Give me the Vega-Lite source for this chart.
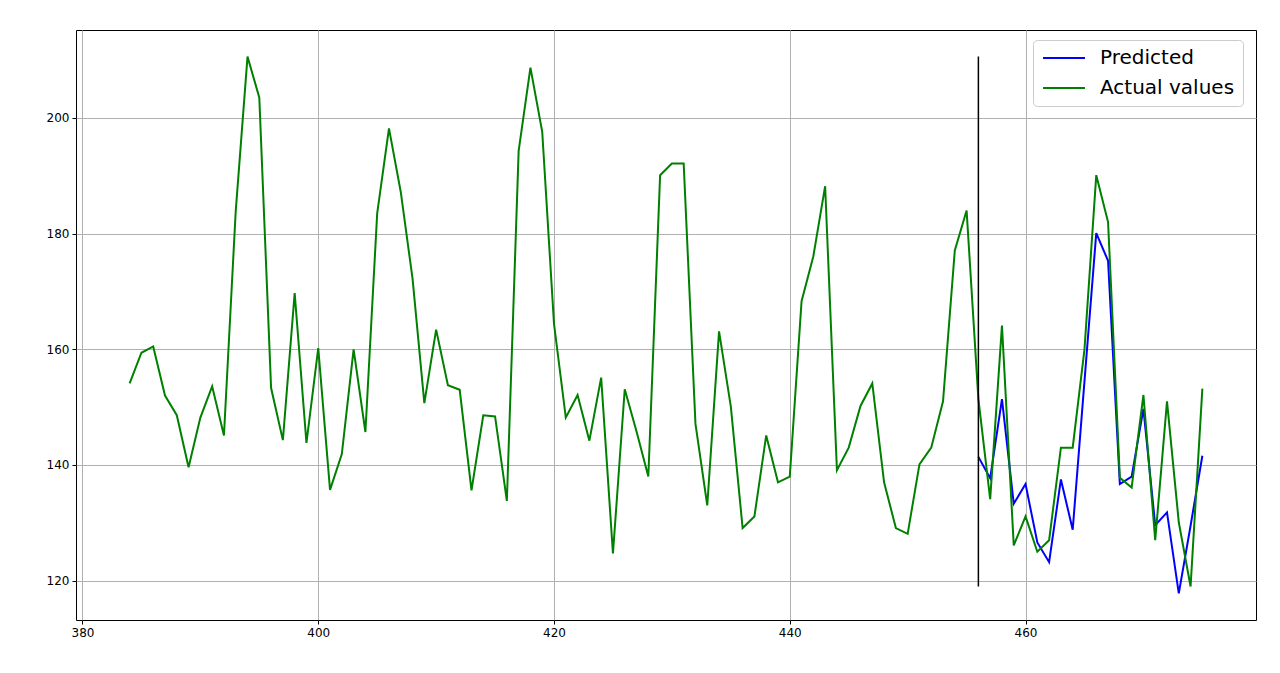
{
  "$schema": "https://vega.github.io/schema/vega-lite/v6.json",
  "width": 1180,
  "height": 590,
  "autosize": {"type": "none"},
  "padding": {"left": 76, "top": 30, "right": 24, "bottom": 53},
  "background": "white",
  "config": {
    "view": {"stroke": "#000000", "strokeWidth": 1},
    "font": "DejaVu Sans",
    "axis": {
      "domain": false,
      "grid": true,
      "gridColor": "#b0b0b0",
      "gridWidth": 1,
      "gridOpacity": 1,
      "tickColor": "#000000",
      "tickSize": 4,
      "tickWidth": 1,
      "labelFont": "DejaVu Sans",
      "labelFontSize": 12,
      "labelColor": "#000000",
      "labelPadding": 3,
      "title": null
    }
  },
  "layer": [
    {
      "data": {
        "values": [
          {"x": 456, "series": "Predicted", "y": 141.4},
          {"x": 457, "series": "Predicted", "y": 137.7},
          {"x": 458, "series": "Predicted", "y": 151.4},
          {"x": 459, "series": "Predicted", "y": 133.3},
          {"x": 460, "series": "Predicted", "y": 136.7},
          {"x": 461, "series": "Predicted", "y": 126.6},
          {"x": 462, "series": "Predicted", "y": 123.2},
          {"x": 463, "series": "Predicted", "y": 137.5},
          {"x": 464, "series": "Predicted", "y": 128.8},
          {"x": 465, "series": "Predicted", "y": 154.5},
          {"x": 466, "series": "Predicted", "y": 180.1},
          {"x": 467, "series": "Predicted", "y": 175.3},
          {"x": 468, "series": "Predicted", "y": 136.7},
          {"x": 469, "series": "Predicted", "y": 138.0},
          {"x": 470, "series": "Predicted", "y": 149.7},
          {"x": 471, "series": "Predicted", "y": 129.6},
          {"x": 472, "series": "Predicted", "y": 131.8},
          {"x": 473, "series": "Predicted", "y": 117.8},
          {"x": 474, "series": "Predicted", "y": 129.5},
          {"x": 475, "series": "Predicted", "y": 141.6},
          {"x": 384, "series": "Actual values", "y": 154.1},
          {"x": 385, "series": "Actual values", "y": 159.4},
          {"x": 386, "series": "Actual values", "y": 160.5},
          {"x": 387, "series": "Actual values", "y": 152.0},
          {"x": 388, "series": "Actual values", "y": 148.6},
          {"x": 389, "series": "Actual values", "y": 139.6},
          {"x": 390, "series": "Actual values", "y": 148.2},
          {"x": 391, "series": "Actual values", "y": 153.6},
          {"x": 392, "series": "Actual values", "y": 145.1},
          {"x": 393, "series": "Actual values", "y": 183.9},
          {"x": 394, "series": "Actual values", "y": 210.6},
          {"x": 395, "series": "Actual values", "y": 203.5},
          {"x": 396, "series": "Actual values", "y": 153.3},
          {"x": 397, "series": "Actual values", "y": 144.3},
          {"x": 398, "series": "Actual values", "y": 169.7},
          {"x": 399, "series": "Actual values", "y": 143.8},
          {"x": 400, "series": "Actual values", "y": 160.2},
          {"x": 401, "series": "Actual values", "y": 135.7},
          {"x": 402, "series": "Actual values", "y": 141.9},
          {"x": 403, "series": "Actual values", "y": 160.0},
          {"x": 404, "series": "Actual values", "y": 145.7},
          {"x": 405, "series": "Actual values", "y": 183.5},
          {"x": 406, "series": "Actual values", "y": 198.2},
          {"x": 407, "series": "Actual values", "y": 187.2},
          {"x": 408, "series": "Actual values", "y": 172.2},
          {"x": 409, "series": "Actual values", "y": 150.7},
          {"x": 410, "series": "Actual values", "y": 163.4},
          {"x": 411, "series": "Actual values", "y": 153.8},
          {"x": 412, "series": "Actual values", "y": 153.0},
          {"x": 413, "series": "Actual values", "y": 135.6},
          {"x": 414, "series": "Actual values", "y": 148.6},
          {"x": 415, "series": "Actual values", "y": 148.4},
          {"x": 416, "series": "Actual values", "y": 133.8},
          {"x": 417, "series": "Actual values", "y": 194.3},
          {"x": 418, "series": "Actual values", "y": 208.7},
          {"x": 419, "series": "Actual values", "y": 197.6},
          {"x": 420, "series": "Actual values", "y": 164.4},
          {"x": 421, "series": "Actual values", "y": 148.2},
          {"x": 422, "series": "Actual values", "y": 152.1},
          {"x": 423, "series": "Actual values", "y": 144.2},
          {"x": 424, "series": "Actual values", "y": 155.1},
          {"x": 425, "series": "Actual values", "y": 124.7},
          {"x": 426, "series": "Actual values", "y": 153.1},
          {"x": 427, "series": "Actual values", "y": 145.8},
          {"x": 428, "series": "Actual values", "y": 138.0},
          {"x": 429, "series": "Actual values", "y": 190.1},
          {"x": 430, "series": "Actual values", "y": 192.1},
          {"x": 431, "series": "Actual values", "y": 192.1},
          {"x": 432, "series": "Actual values", "y": 147.1},
          {"x": 433, "series": "Actual values", "y": 133.0},
          {"x": 434, "series": "Actual values", "y": 163.1},
          {"x": 435, "series": "Actual values", "y": 150.1},
          {"x": 436, "series": "Actual values", "y": 129.1},
          {"x": 437, "series": "Actual values", "y": 131.1},
          {"x": 438, "series": "Actual values", "y": 145.1},
          {"x": 439, "series": "Actual values", "y": 137.0},
          {"x": 440, "series": "Actual values", "y": 138.0},
          {"x": 441, "series": "Actual values", "y": 168.3},
          {"x": 442, "series": "Actual values", "y": 176.1},
          {"x": 443, "series": "Actual values", "y": 188.2},
          {"x": 444, "series": "Actual values", "y": 139.1},
          {"x": 445, "series": "Actual values", "y": 143.0},
          {"x": 446, "series": "Actual values", "y": 150.2},
          {"x": 447, "series": "Actual values", "y": 154.1},
          {"x": 448, "series": "Actual values", "y": 137.0},
          {"x": 449, "series": "Actual values", "y": 129.1},
          {"x": 450, "series": "Actual values", "y": 128.1},
          {"x": 451, "series": "Actual values", "y": 140.1},
          {"x": 452, "series": "Actual values", "y": 143.0},
          {"x": 453, "series": "Actual values", "y": 151.0},
          {"x": 454, "series": "Actual values", "y": 177.1},
          {"x": 455, "series": "Actual values", "y": 184.0},
          {"x": 456, "series": "Actual values", "y": 151.4},
          {"x": 457, "series": "Actual values", "y": 134.1},
          {"x": 458, "series": "Actual values", "y": 164.1},
          {"x": 459, "series": "Actual values", "y": 126.1},
          {"x": 460, "series": "Actual values", "y": 131.1},
          {"x": 461, "series": "Actual values", "y": 125.0},
          {"x": 462, "series": "Actual values", "y": 127.0},
          {"x": 463, "series": "Actual values", "y": 143.0},
          {"x": 464, "series": "Actual values", "y": 143.0},
          {"x": 465, "series": "Actual values", "y": 160.0},
          {"x": 466, "series": "Actual values", "y": 190.1},
          {"x": 467, "series": "Actual values", "y": 182.0},
          {"x": 468, "series": "Actual values", "y": 137.8},
          {"x": 469, "series": "Actual values", "y": 136.1},
          {"x": 470, "series": "Actual values", "y": 152.1},
          {"x": 471, "series": "Actual values", "y": 127.0},
          {"x": 472, "series": "Actual values", "y": 151.0},
          {"x": 473, "series": "Actual values", "y": 130.1},
          {"x": 474, "series": "Actual values", "y": 119.0},
          {"x": 475, "series": "Actual values", "y": 153.2}
        ]
      },
      "mark": {"type": "line", "strokeWidth": 2, "clip": true},
      "encoding": {
        "x": {
          "field": "x",
          "type": "quantitative",
          "scale": {"domain": [379.45, 479.55], "nice": false, "zero": false},
          "axis": {"values": [380, 400, 420, 440, 460], "format": "d"}
        },
        "y": {
          "field": "y",
          "type": "quantitative",
          "scale": {"domain": [113.2, 215.2], "nice": false, "zero": false},
          "axis": {"values": [120, 140, 160, 180, 200], "format": "d"}
        },
        "color": {
          "field": "series",
          "type": "nominal",
          "scale": {"domain": ["Predicted", "Actual values"], "range": ["#0000ff", "#008000"]},
          "legend": {
            "title": null,
            "orient": "none",
            "legendX": 957,
            "legendY": 10,
            "padding": 8,
            "fillColor": "#ffffff",
            "strokeColor": "#cccccc",
            "cornerRadius": 4,
            "symbolType": "M-3,0H3",
            "symbolSize": 196,
            "symbolOffset": 13,
            "symbolStrokeWidth": 2,
            "labelFont": "DejaVu Sans",
            "labelFontSize": 20,
            "labelColor": "#000000",
            "labelOffset": 26,
            "rowPadding": 10
          }
        }
      }
    },
    {
      "data": {"values": [{"x": 456, "ymin": 119.0, "ymax": 210.6}]},
      "mark": {"type": "rule", "color": "#000000", "strokeWidth": 1.5},
      "encoding": {
        "x": {"field": "x", "type": "quantitative"},
        "y": {"field": "ymin", "type": "quantitative"},
        "y2": {"field": "ymax"}
      }
    }
  ]
}
